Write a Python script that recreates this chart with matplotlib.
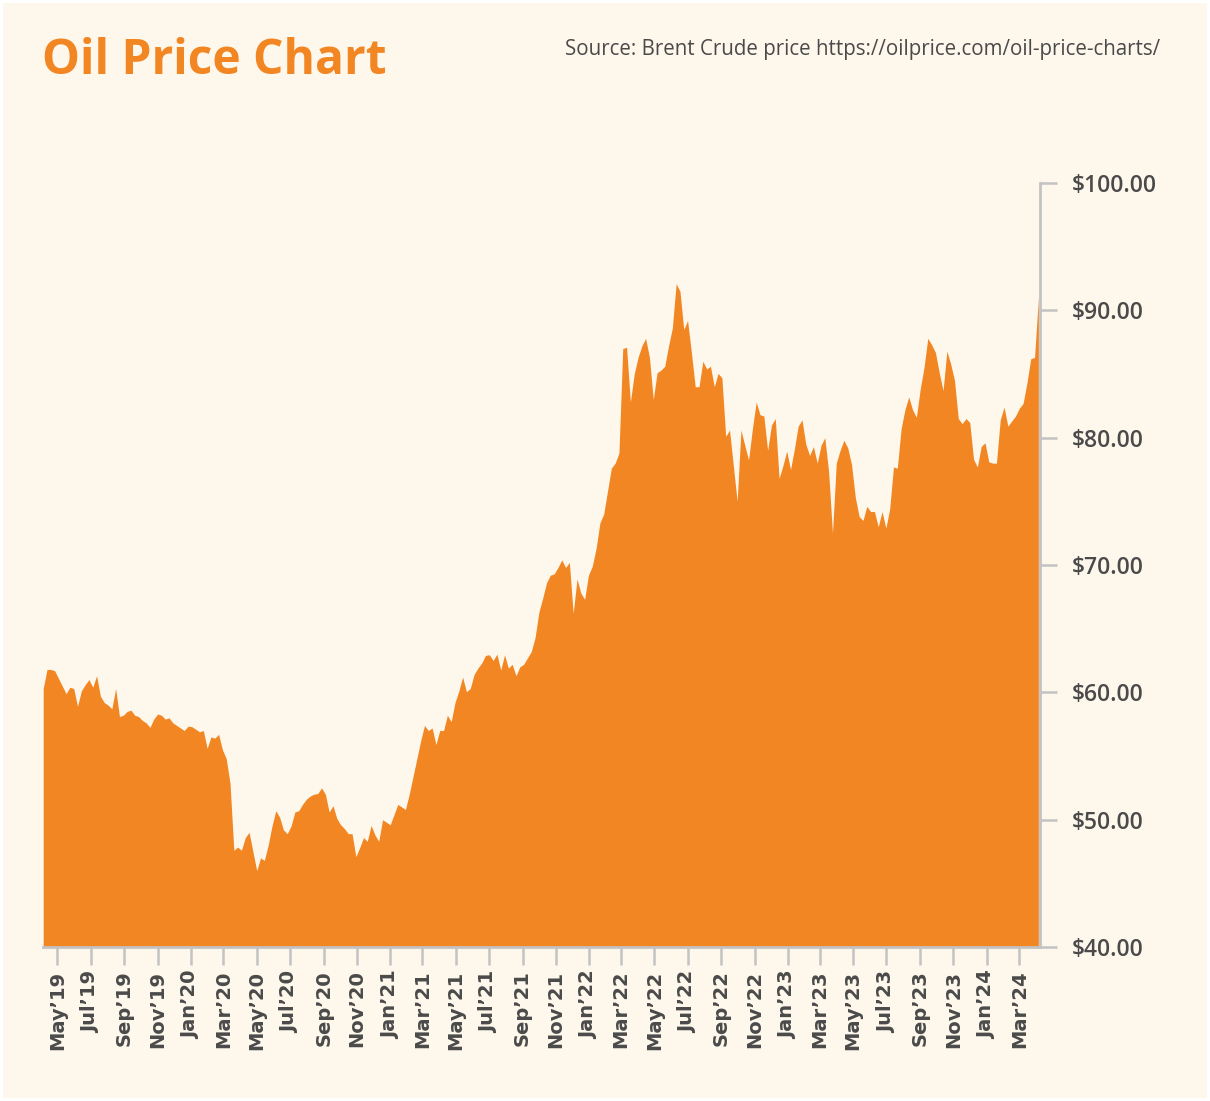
import numpy as np
import pandas as pd
import matplotlib
matplotlib.use("Agg")
import matplotlib.pyplot as plt
import matplotlib.dates as mdates
from matplotlib.patches import Rectangle
from matplotlib.ticker import FuncFormatter, FixedLocator

# weekly Brent closes (USD), first week = 2019-04-05
start_date = "2019-04-05"
prices = [
    # 2019
    60.3, 61.8, 61.8, 61.7, 61.1, 60.5, 59.9, 60.4, 60.3, 58.9,
    60.1, 60.6, 61.0, 60.4, 61.3, 59.7, 59.2, 59.0, 58.7, 60.3,
    58.1, 58.2, 58.5, 58.6, 58.2, 58.1, 57.8, 57.6, 57.25, 57.9,
    58.3, 58.2, 57.9, 58.0, 57.6, 57.4, 57.2, 57.0, 57.35, 57.3,
    # 2020
    57.1, 56.9, 57.0, 55.6, 56.5, 56.4, 56.7, 55.5, 54.8, 52.85,
    47.6, 47.85, 47.6, 48.6, 49.0, 47.5, 46.0, 47.0, 46.8, 48.0,
    49.5, 50.7, 50.2, 49.2, 48.9, 49.5, 50.6, 50.7, 51.2, 51.6,
    51.85, 52.0, 52.05, 52.5, 52.0, 50.6, 51.1, 50.1, 49.6, 49.3,
    48.9, 48.9, 47.1, 47.8, 48.6, 48.3, 49.55, 48.8, 48.3, 50.0,
    # 2021
    49.8, 49.6, 50.4, 51.2, 51.0, 50.8, 52.0, 53.4, 54.8, 56.2,
    57.4, 57.0, 57.2, 55.9, 57.0, 57.0, 58.2, 57.7, 59.2, 60.1,
    61.2, 60.05, 60.3, 61.4, 61.9, 62.3, 62.9, 62.95, 62.5, 63.0,
    61.75, 62.95, 61.9, 62.2, 61.3, 62.0, 62.2, 62.7, 63.2, 64.3,
    66.3, 67.4, 68.6, 69.2, 69.3, 69.8, 70.4, 69.8, 70.2, 66.2,
    # 2022
    68.9, 67.8, 67.3, 69.2, 69.9, 71.3, 73.3, 74.0, 75.8, 77.6,
    78.0, 78.8, 87.0, 87.1, 82.8, 85.0, 86.3, 87.2, 87.8, 86.3,
    83.0, 85.1, 85.3, 85.6, 87.2, 88.6, 92.1, 91.5, 88.5, 89.2,
    86.7, 84.0, 84.0, 86.0, 85.4, 85.6, 84.0, 85.05, 84.7, 80.1,
    80.6, 77.8, 75.0, 80.6, 79.4, 78.25, 80.7, 82.8, 81.8, 81.7,
    # 2023
    79.0, 81.0, 81.5, 76.8, 77.8, 78.95, 77.5, 79.1, 80.9, 81.4,
    79.5, 78.6, 79.3, 78.0, 79.4, 80.0, 77.3, 72.5, 78.0, 79.0,
    79.8, 79.2, 77.9, 75.3, 73.8, 73.5, 74.6, 74.2, 74.2, 73.0,
    74.2, 72.9, 74.4, 77.7, 77.6, 80.7, 82.2, 83.2, 82.2, 81.6,
    83.8, 85.5, 87.8, 87.3, 86.7, 85.1, 83.7, 86.8, 85.8, 84.5,
    # 2024
    81.5, 81.1, 81.5, 81.2, 78.3, 77.7, 79.3, 79.6, 78.1, 78.0,
    78.0, 81.4, 82.4, 80.9, 81.3, 81.7, 82.3, 82.7, 84.3, 86.2,
    86.3, 91.0,
]

y_ticks = [40, 50, 60, 70, 80, 90, 100]
tick_months = pd.date_range("2019-05-01", "2024-03-01", freq="2MS")
tick_labels = [d.strftime("%b") + "\u2019" + d.strftime("%y") for d in tick_months]

title = "Oil Price Chart"
source = "Source: Brent Crude price https://oilprice.com/oil-price-charts/"

BG = "#fef7ec"
ORANGE = "#f28623"
GREY = "#c3c3c3"
TEXT = "#4a4a4a"
FONT = ["Open Sans", "DejaVu Sans"]

plt.rcParams["font.family"] = FONT

dates = pd.date_range(start_date, periods=len(prices), freq="7D")

W, H = 1210, 1101
fig = plt.figure(figsize=(W / 100, H / 100), dpi=100, facecolor="white")
# cream card with a thin white frame
fig.patches.append(Rectangle((3 / W, 3 / H), 1 - 6 / W, 1 - 6 / H,
                             transform=fig.transFigure, facecolor=BG,
                             edgecolor="none", zorder=-10))

ax = fig.add_axes([43.2 / W, 1 - 947 / H, (1040 - 43.2) / W, 764 / H])
ax.set_facecolor("none")
ax.set_zorder(5)

ax.fill_between(dates, 40, prices, color=ORANGE, linewidth=0)

ax.set_xlim(dates[0], pd.Timestamp("2024-04-08"))
ax.set_ylim(40, 100)

for s in ("left", "top"):
    ax.spines[s].set_visible(False)
for s in ("right", "bottom"):
    ax.spines[s].set_color(GREY)
    ax.spines[s].set_linewidth(2)

ax.yaxis.tick_right()
ax.set_yticks(y_ticks)
ax.yaxis.set_major_formatter(FuncFormatter(lambda v, _: f"${v:.2f}"))
ax.tick_params(axis="y", direction="out", length=12, width=1.8, color=GREY,
               pad=11, labelsize=16.5, labelcolor=TEXT)
for lab in ax.get_yticklabels():
    lab.set_fontweight("semibold")

ax.xaxis.set_major_locator(FixedLocator(mdates.date2num(tick_months)))
ax.set_xticklabels(tick_labels, rotation=90, ha="center", va="top",
                   family="DejaVu Sans", fontweight="bold")
ax.tick_params(axis="x", direction="out", length=13, width=1.8, color=GREY,
               pad=4, labelsize=14, labelcolor=TEXT)

fig.text(42 / W, 1 - 62 / H, title, fontsize=34.5, fontweight="bold",
         color=ORANGE, va="center", ha="left")
fig.text(1160 / W, 1 - 50 / H, source, fontsize=14.8, color=TEXT,
         va="center", ha="right")

fig.savefig("out.png", dpi=100, facecolor=fig.get_facecolor())
